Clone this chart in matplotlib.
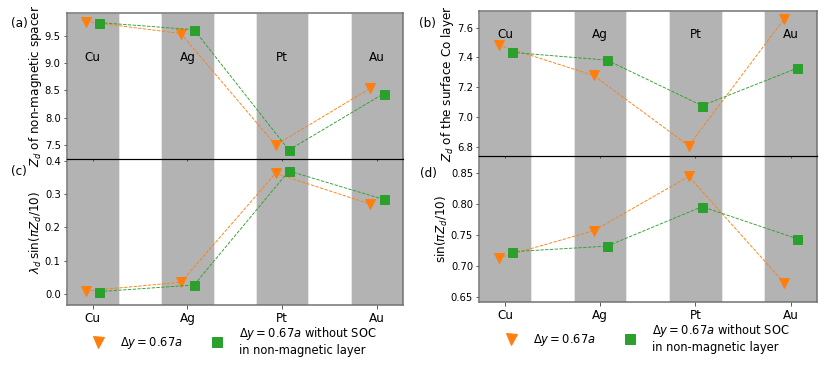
import matplotlib
matplotlib.use("Agg")
import matplotlib.pyplot as plt
from matplotlib.lines import Line2D
import numpy as np

elements = ["Cu", "Ag", "Pt", "Au"]

# (a) Z_d of non-magnetic spacer
a_soc = [9.76, 9.54, 7.50, 8.54]
a_nosoc = [9.74, 9.61, 7.41, 8.44]
# (b) Z_d of the surface Co layer
b_soc = [7.483, 7.279, 6.807, 7.656]
b_nosoc = [7.434, 7.382, 7.076, 7.328]
# (c) lambda_d sin(pi Z_d/10)
c_soc = [0.010, 0.036, 0.362, 0.270]
c_nosoc = [0.008, 0.028, 0.369, 0.284]
# (d) sin(pi Z_d/10)
d_soc = [0.713, 0.757, 0.845, 0.673]
d_nosoc = [0.723, 0.732, 0.796, 0.744]

label_soc = r"$\Delta y=0.67a$"
label_nosoc = "$\\Delta y=0.67a$ without SOC\nin non-magnetic layer"

W, H = 822, 367
fig = plt.figure(figsize=(W / 72, H / 72), dpi=72)

def px_axes(left, top, right, bottom):
    return fig.add_axes([left / W, 1 - bottom / H, (right - left) / W, (bottom - top) / H])

ax_c = px_axes(66.7, 159.3, 403, 305)
ax_a = px_axes(66.7, 13.3, 403, 159.3)
ax_d = px_axes(479, 155.7, 816.7, 302.3)
ax_b = px_axes(479, 11, 816.7, 155.7)

orange = "#ff7f0e"
green = "#2ca02c"
w = 0.275
x = np.arange(len(elements))
off = 0.07
spine_col = "#707070"

series = {ax_a: (a_soc, a_nosoc), ax_b: (b_soc, b_nosoc),
          ax_c: (c_soc, c_nosoc), ax_d: (d_soc, d_nosoc)}

def style(ax, ylim, yticks, top, ylabel, name_y=None):
    for i in x:
        ax.axvspan(i - w, i + w, facecolor="#b3b3b3", edgecolor="#e6e6e6", lw=1.0, zorder=0)
    s_soc, s_nosoc = series[ax]
    ax.plot(x - off, s_soc, ls="--", lw=0.9, color=orange, marker="v", ms=10, zorder=3)
    ax.plot(x + off, s_nosoc, ls="--", lw=0.9, color=green, marker="s", ms=9, zorder=3)
    ax.set_xlim(-w, 3 + w)
    ax.set_ylim(*ylim)
    ax.set_yticks(yticks)
    ax.set_xticks(x)
    ax.tick_params(labelsize=10, color="#333333")
    ax.tick_params(axis="y", pad=2.5)
    for s in ax.spines.values():
        s.set_color(spine_col)
        s.set_linewidth(1.5)
    if top:
        ax.set_xticklabels([])
        ax.spines["bottom"].set_color("black")
        ax.spines["bottom"].set_linewidth(1.2)
        ax.tick_params(axis="x", length=2)
        for i, el in enumerate(elements):
            ax.text(i, name_y, el, ha="center", va="center", fontsize=12)
    else:
        ax.set_xticklabels(elements, fontsize=12)
        ax.spines["top"].set_visible(False)
        handles = [Line2D([], [], ls="none", color=orange, marker="v", ms=11),
                   Line2D([], [], ls="none", color=green, marker="s", ms=10)]
        ax.legend(handles, [label_soc, label_nosoc], loc="upper center",
                  bbox_to_anchor=(0.5, -0.065), ncol=2, frameon=False,
                  fontsize=11.5, handlelength=1.0, columnspacing=2.5, handletextpad=1.4)
    ax.set_ylabel(ylabel, fontsize=12, labelpad=1)

style(ax_c, (-0.032, 0.404), [0.0, 0.1, 0.2, 0.3, 0.4], False, r"$\lambda_d\,\sin(\pi Z_d/10)$")
style(ax_a, (7.24, 9.91), [7.5, 8.0, 8.5, 9.0, 9.5], True, r"$Z_d$ of non-magnetic spacer", 9.11)
style(ax_d, (0.641, 0.8786), [0.65, 0.70, 0.75, 0.80, 0.85], False, r"$\sin(\pi Z_d/10)$")
style(ax_b, (6.74, 7.712), [6.8, 7.0, 7.2, 7.4, 7.6], True, r"$Z_d$ of the surface Co layer", 7.555)

for lab, xp, yp in [("(a)", 19, 23), ("(b)", 427, 24), ("(c)", 19, 172), ("(d)", 428, 173)]:
    fig.text(xp / W, 1 - yp / H, lab, ha="center", va="center", fontsize=12)

fig.savefig("out.png", dpi=72)
